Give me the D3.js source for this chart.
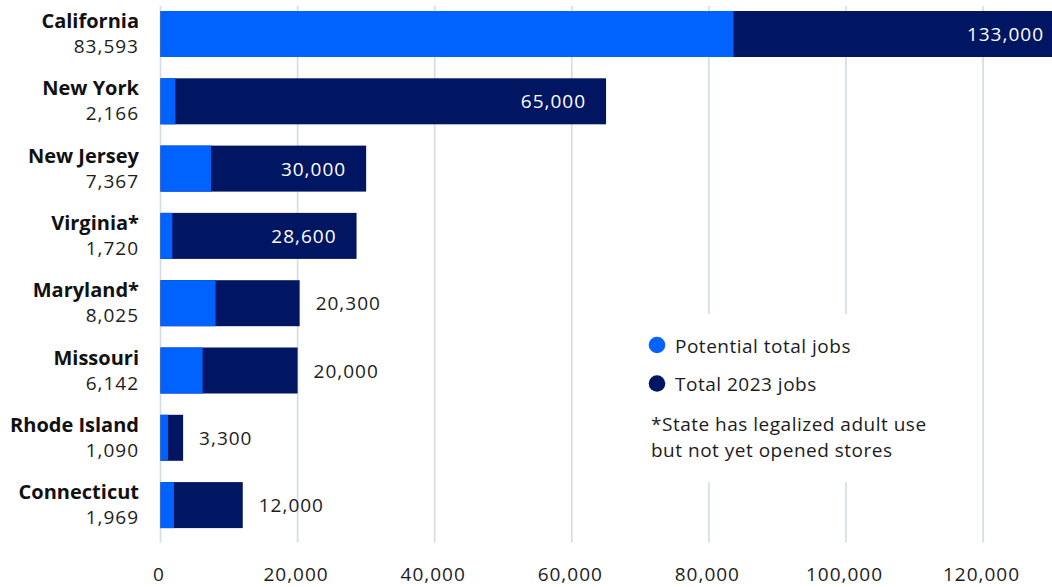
<!DOCTYPE html>
<html>
<head>
<meta charset="utf-8">
<script src="https://cdn.jsdelivr.net/npm/d3@7"></script>
<style>
  html, body { margin: 0; padding: 0; background: #fff; }
  svg { display: block; }
  text { font-family: "Open Sans", "Lato", sans-serif; }
</style>
</head>
<body>
<svg id="chart" width="1052" height="587"></svg>
<script>
const states = ["California", "New York", "New Jersey", "Virginia*", "Maryland*", "Missouri", "Rhode Island", "Connecticut"];
const potentialJobs = [83593, 2166, 7367, 1720, 8025, 6142, 1090, 1969];
const totalJobs = [133000, 65000, 30000, 28600, 20300, 20000, 3300, 12000];
const tickValues = [0, 20000, 40000, 60000, 80000, 100000, 120000];
const legendLabels = ["Potential total jobs", "Total 2023 jobs"];
const footnoteLines = ["*State has legalized adult use", "but not yet opened stores"];

const colLight = "#0062ff";
const colDark = "#001662";
const gridCol = "#d3dce2";
const textCol = "#1c1c1c";

const svg = d3.select("#chart");
const W = 1052;

const x = d3.scaleLinear().domain([0, 130000]).range([160.5, 1051.6]);
const y = d3.scaleBand().domain(states).range([11, 528.1]).paddingInner(0.3165).paddingOuter(0);
const fmt = d3.format(",");

// gridlines
svg.append("g").selectAll("line").data(tickValues).join("line")
  .attr("x1", d => x(d)).attr("x2", d => x(d))
  .attr("y1", 6).attr("y2", 542.5)
  .attr("stroke", gridCol).attr("stroke-width", 1.6);

// axis labels
svg.append("g").selectAll("text").data(tickValues).join("text")
  .attr("x", d => x(d) - 1.5).attr("y", 581)
  .attr("text-anchor", "middle")
  .attr("font-size", 19).attr("letter-spacing", 1)
  .attr("fill", textCol)
  .text(d => fmt(d));

// legend background (hides gridlines)
svg.append("rect").attr("x", 640).attr("y", 314).attr("width", 320).attr("height", 168).attr("fill", "#fff");

const rows = states.map((s, i) => ({ state: s, pot: potentialJobs[i], tot: totalJobs[i] }));

const g = svg.append("g");
// dark total bars
g.selectAll("rect.tot").data(rows).join("rect").attr("class", "tot")
  .attr("x", x(0)).attr("y", d => y(d.state))
  .attr("width", d => x(d.tot) - x(0)).attr("height", y.bandwidth())
  .attr("fill", colDark);
// light potential bars
g.selectAll("rect.pot").data(rows).join("rect").attr("class", "pot")
  .attr("x", x(0)).attr("y", d => y(d.state))
  .attr("width", d => x(d.pot) - x(0)).attr("height", y.bandwidth())
  .attr("fill", colLight);

// value labels
g.selectAll("text.val").data(rows).join("text").attr("class", "val")
  .attr("x", d => d.tot > 25000 ? Math.min(x(d.tot), W) - (x(d.tot) > W ? 8 : 20) : x(d.tot) + 16)
  .attr("y", d => y(d.state) + y.bandwidth() / 2 + 7)
  .attr("text-anchor", d => d.tot > 25000 ? "end" : "start")
  .attr("font-size", 19).attr("letter-spacing", 1)
  .attr("fill", d => d.tot > 25000 ? "#fff" : textCol)
  .text(d => fmt(d.tot));

// state names
g.selectAll("text.name").data(rows).join("text").attr("class", "name")
  .attr("x", 139).attr("y", d => y(d.state) + y.bandwidth() / 2 - 6)
  .attr("text-anchor", "end")
  .attr("font-size", 20).attr("font-weight", 700)
  .attr("fill", "#111")
  .text(d => d.state);

// potential numbers under names
g.selectAll("text.pnum").data(rows).join("text").attr("class", "pnum")
  .attr("x", 139).attr("y", d => y(d.state) + y.bandwidth() / 2 + 19)
  .attr("text-anchor", "end")
  .attr("font-size", 19).attr("letter-spacing", 1)
  .attr("fill", textCol)
  .text(d => fmt(d.pot));

// legend
const legColors = [colLight, colDark];
const leg = svg.append("g");
leg.selectAll("circle").data(legendLabels).join("circle")
  .attr("cx", 657).attr("cy", (d, i) => 345 + i * 38.5).attr("r", 8.3)
  .attr("fill", (d, i) => legColors[i]);
leg.selectAll("text.lg").data(legendLabels).join("text").attr("class", "lg")
  .attr("x", 675).attr("y", (d, i) => 352.5 + i * 38.5)
  .attr("font-size", 19).attr("letter-spacing", 0.5)
  .attr("fill", textCol).text(d => d);
leg.selectAll("text.fn").data(footnoteLines).join("text").attr("class", "fn")
  .attr("x", 651).attr("y", (d, i) => 430.5 + i * 26)
  .attr("font-size", 19).attr("letter-spacing", 0.5)
  .attr("fill", textCol).text(d => d);
</script>
</body>
</html>
